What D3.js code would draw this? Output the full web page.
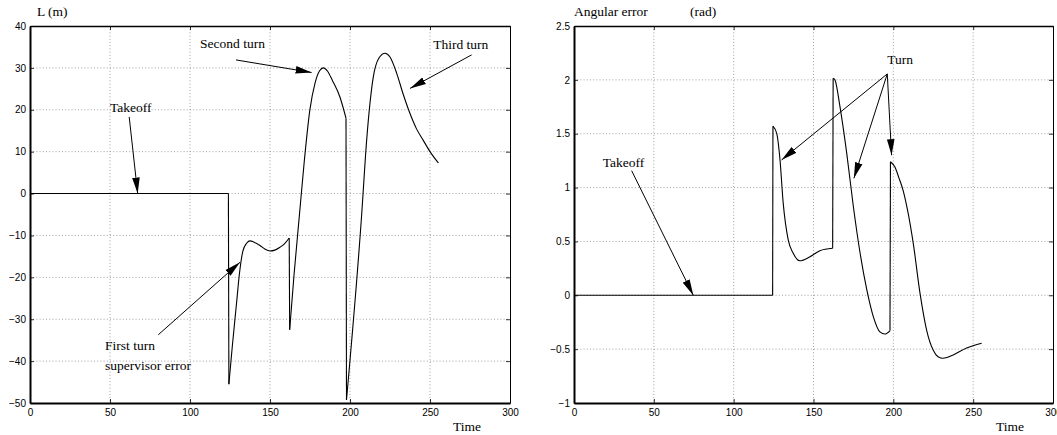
<!DOCTYPE html>
<html>
<head>
<meta charset="utf-8">
<title>L and angular error</title>
<script src="https://cdn.jsdelivr.net/npm/d3@7"></script>
<style>
  body { margin: 0; background: #fff; }
  svg { display: block; }
  .grid line { stroke: #888; stroke-width: 0.8; stroke-dasharray: 1,2.2; }
  .curve { fill: none; stroke: #000; stroke-width: 1.1; }
  .note { font-family: "Liberation Serif", "Times New Roman", serif; font-size: 13.5px; fill: #000; }
  .arrow { stroke: #000; stroke-width: 1; }
</style>
</head>
<body>
<script>
// time axis, shared
var xTicks = [0, 50, 100, 150, 200, 250, 300];

// left panel: lateral distance L (m)
var leftYTicks = [40, 30, 20, 10, 0, -10, -20, -30, -40, -50];
var leftTime = [0, 124,
  124.3, 126.5, 129, 131, 133, 135.5, 137.5, 140, 143.75, 147, 150, 153, 156.25, 159, 162,
  162.3, 165, 168.3, 171.5, 174.9, 178.1, 181, 183.3, 186, 189, 193.75, 197.5,
  197.8, 207.3, 210.4, 214.6, 218, 221.9, 225, 229.2, 233, 237.5, 241.5, 245.8, 250, 255.2];
var leftL = [0, 0,
  -45.5, -36.2, -26.5, -18.8, -13.8, -11.8, -11.3, -11.6, -12.4, -13.3, -13.7, -13.5, -12.8, -12, -10.6,
  -32.5, -19.5, -5.5, 8, 19.9, 26.3, 29.3, 30, 29.2, 27, 23, 18,
  -49.3, -5, 12.7, 27.9, 32.3, 33.5, 32.6, 28.7, 24, 19.1, 15.5, 12.7, 10, 7.3];

// right panel: angular error (rad)
var rightYTicks = [2.5, 2, 1.5, 1, 0.5, 0, -0.5, -1];
var rightTime = [0, 124.4,
  124.6, 127, 129, 131, 134.2, 137.3, 141.5, 147.8, 154, 162,
  162.3, 163.4, 166.6, 170.8, 175, 179.2, 183.4, 187.5, 191.6, 194.7, 197.9,
  198.2, 201, 203.5, 206.2, 209.3, 212.5, 216.7, 220.8, 225, 228, 231.2, 234, 237.5, 245.9, 255.3];
var rightErr = [0, 0,
  1.57, 1.5, 1.26, 0.86, 0.513, 0.39, 0.32, 0.358, 0.414, 0.436,
  2.015, 2.0, 1.75, 1.32, 0.82, 0.39, 0.05, -0.2, -0.34, -0.36, -0.33,
  1.24, 1.19, 1.09, 0.97, 0.76, 0.48, 0.02, -0.32, -0.51, -0.57, -0.585, -0.575, -0.554, -0.49, -0.446];

// annotations, in data units
var leftNotes = [
  { text: "Takeoff", t: 50, v: 19.4 },
  { text: "Second turn", t: 106.3, v: 34.7 },
  { text: "Third turn", t: 252, v: 34.6 },
  { text: "First turn", t: 46.9, v: -37.3 },
  { text: "supervisor error", t: 46.9, v: -42.1 }
];
var leftArrows = [
  { t1: 62, v1: 18.3, t2: 67.3, v2: 0 },
  { t1: 128.75, v1: 31.9, t2: 176, v2: 28.9 },
  { t1: 276, v1: 33.1, t2: 237.5, v2: 25.1 },
  { t1: 80.2, v1: -33.7, t2: 131.25, v2: -16.4 }
];
var rightNotes = [
  { text: "Takeoff", t: 18, v: 1.19 },
  { text: "Turn", t: 196.2, v: 2.15 }
];
var rightArrows = [
  { t1: 36.1, v1: 1.157, t2: 74.7, v2: 0 },
  { t1: 196.2, v1: 2.055, t2: 130, v2: 1.256 },
  { t1: 196.2, v1: 2.055, t2: 175.3, v2: 1.086 },
  { t1: 196.2, v1: 2.055, t2: 198.9, v2: 1.30 }
];

var svg = d3.select("body").append("svg")
  .attr("width", 1057).attr("height", 435);

svg.append("defs").append("marker")
  .attr("id", "head")
  .attr("viewBox", "0 -4 16 8")
  .attr("refX", 16).attr("refY", 0)
  .attr("markerUnits", "userSpaceOnUse")
  .attr("markerWidth", 16).attr("markerHeight", 8)
  .attr("orient", "auto")
  .append("path").attr("d", "M0,-3.8L16,0L0,3.8Z").attr("fill", "#000");

function tickText(v) { return String(v).replace("-", "\u2212"); }

function panel(left, right, yDomain, yTicks, time, vals, notes, arrows) {
  var top = 26, bottom = 403;
  var x = d3.scaleLinear().domain([0, 300]).range([left, right]);
  var y = d3.scaleLinear().domain(yDomain).range([bottom, top]);
  var g = svg.append("g");

  // grid
  var grid = g.append("g").attr("class", "grid");
  grid.selectAll("line.v").data(xTicks.slice(1, -1)).enter().append("line")
    .attr("x1", function(d) { return x(d); }).attr("x2", function(d) { return x(d); })
    .attr("y1", top).attr("y2", bottom);
  grid.selectAll("line.h").data(yTicks.slice(1, -1)).enter().append("line")
    .attr("x1", left).attr("x2", right)
    .attr("y1", function(d) { return y(d); }).attr("y2", function(d) { return y(d); });

  // axes, ticks inside like matlab
  var ax = [
    g.append("g").attr("transform", "translate(" + left + ",0)")
      .call(d3.axisLeft(y).tickValues(yTicks).tickSize(-4).tickSizeOuter(0).tickPadding(4).tickFormat(tickText)),
    g.append("g").attr("transform", "translate(0," + bottom + ")")
      .call(d3.axisBottom(x).tickValues(xTicks).tickSize(-4).tickSizeOuter(0).tickPadding(6).tickFormat(tickText)),
    g.append("g").attr("transform", "translate(0," + top + ")")
      .call(d3.axisTop(x).tickValues(xTicks).tickSize(-4).tickSizeOuter(0).tickFormat("")),
    g.append("g").attr("transform", "translate(" + right + ",0)")
      .call(d3.axisRight(y).tickValues(yTicks).tickSize(-4).tickSizeOuter(0).tickFormat(""))
  ];
  ax.forEach(function(a, i) {
    a.attr("font-family", "'Liberation Sans', Arial, sans-serif").attr("font-size", 10);
    a.select(".domain").attr("stroke", "#000").attr("stroke-width", i < 2 ? 2 : (i == 2 ? 1.4 : 1));
    a.selectAll(".tick line").attr("stroke", "#000").attr("stroke-width", 0.8);
    a.selectAll(".tick text").attr("fill", "#000");
  });

  // split the series into continuous runs, jumps are straight vertical links
  var pts = time.map(function(t, i) { return [t, vals[i]]; });
  var runs = [[pts[0]]];
  for (var i = 1; i < pts.length; i++) {
    if (pts[i][0] - pts[i - 1][0] <= 0.5) runs.push([]);
    runs[runs.length - 1].push(pts[i]);
  }
  var line = d3.line().x(function(d) { return x(d[0]); }).y(function(d) { return y(d[1]); })
    .curve(d3.curveMonotoneX);
  g.selectAll("path.curve").data(runs).enter().append("path")
    .attr("class", "curve").attr("d", line);
  var links = [];
  for (var j = 1; j < runs.length; j++) links.push([runs[j - 1][runs[j - 1].length - 1], runs[j][0]]);
  g.selectAll("line.jump").data(links).enter().append("line")
    .attr("class", "curve")
    .attr("x1", function(d) { return x(d[0][0]); }).attr("y1", function(d) { return y(d[0][1]); })
    .attr("x2", function(d) { return x(d[1][0]); }).attr("y2", function(d) { return y(d[1][1]); });

  // annotations
  g.selectAll("text.note").data(notes).enter().append("text")
    .attr("class", "note")
    .attr("x", function(d) { return x(d.t); }).attr("y", function(d) { return y(d.v); })
    .text(function(d) { return d.text; });
  g.selectAll("line.arrow").data(arrows).enter().append("line")
    .attr("class", "arrow")
    .attr("x1", function(d) { return x(d.t1); }).attr("y1", function(d) { return y(d.v1); })
    .attr("x2", function(d) { return x(d.t2); }).attr("y2", function(d) { return y(d.v2); })
    .attr("marker-end", "url(#head)");

  g.append("text").attr("class", "note")
    .attr("x", x(300) - 57).attr("y", 431).text("Time");
  return g;
}

var gl = panel(30, 510, [-50, 40], leftYTicks, leftTime, leftL, leftNotes, leftArrows);
gl.append("text").attr("class", "note").attr("x", 37).attr("y", 15.7).text("L (m)");

var gr = panel(574, 1053, [-1, 2.5], rightYTicks, rightTime, rightErr, rightNotes, rightArrows);
gr.append("text").attr("class", "note").attr("x", 574).attr("y", 15.7).text("Angular error");
gr.append("text").attr("class", "note").attr("x", 690).attr("y", 15.7).text("(rad)");
</script>
</body>
</html>
